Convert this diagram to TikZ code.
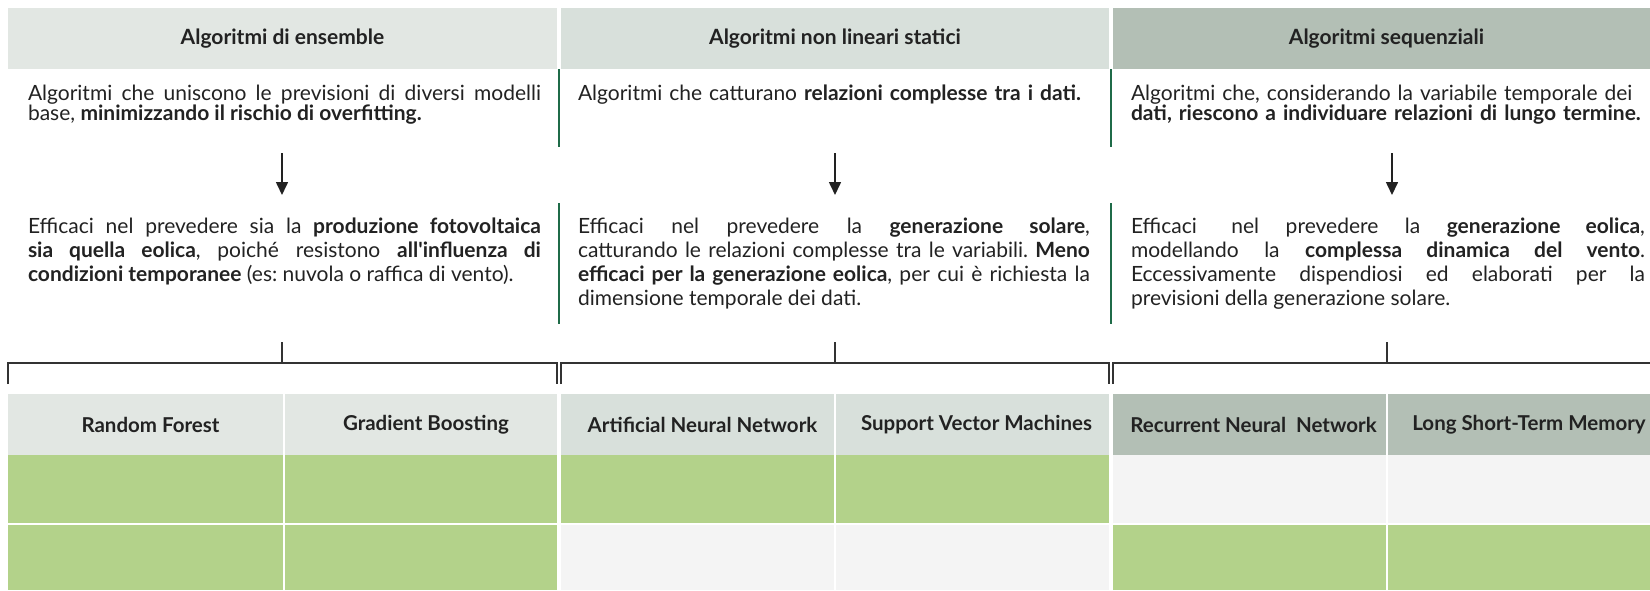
\documentclass[tikz,border=0pt]{standalone}
\usepackage{fontspec}
\setmainfont{Lato}[Ligatures=TeXOff]
\usetikzlibrary{arrows.meta}
\definecolor{headA}{HTML}{E2E7E3}
\definecolor{headB}{HTML}{D8E0DB}
\definecolor{headC}{HTML}{B3BFB5}
\definecolor{okgreen}{HTML}{B3D28A}
\definecolor{nogray}{HTML}{F4F4F4}
\definecolor{bargreen}{HTML}{1F6B48}
\definecolor{mytext}{HTML}{222222}
\hbadness=10000
\frenchspacing

\begin{document}
\begin{tikzpicture}[x=1pt,y=-1pt]

\tikzstyle{title-b} = [inner sep=0, outer sep=0, minimum height=61, text=mytext,
font=\fontsize{21}{24}\selectfont\bfseries]
\tikzstyle{col-b} = [inner sep=0, outer sep=0, minimum height=61, text=mytext,
font=\fontsize{20.5}{24}\selectfont\bfseries]
\tikzstyle{desc-1} = [inner sep=0, outer sep=0, anchor=base west, text=mytext, align=left,
font=\fontsize{21}{20.5}\selectfont]
\tikzstyle{desc-2} = [inner sep=0, outer sep=0, anchor=base west, text=mytext, align=justify,
font=\fontsize{21}{24.3}\selectfont]
\tikzstyle{green-c} = [inner sep=0, outer sep=0, fill=okgreen]
\tikzstyle{gray-c} = [inner sep=0, outer sep=0, fill=nogray]
\tikzstyle{bar} = [bargreen, line width=2.5]
\tikzstyle{down} = [line width=1.6, draw=mytext, -{Triangle[width=12,length=13]}]
\tikzstyle{brace} = [line width=2, draw=black!80]

\clip (0,0) rectangle (1650,590);

% top headers
\node [title-b, fill=headA, minimum width=549] (hA) at (282.5,38.5) {Algoritmi di ensemble};
\node [title-b, fill=headB, minimum width=548] (hB) at (835,38.5) {Algoritmi non lineari statici};
\node [title-b, fill=headC, minimum width=547] (hC) at (1386.5,38.5) {Algoritmi sequenziali};

% first description
\node [desc-1, align=justify, text width=513] (dA) at (28,100) {Algoritmi che uniscono le previsioni di diversi modelli\linebreak
base, \textbf{minimizzando il rischio di overfitting.}};
\node [desc-1, text width=512] (dB) at (578,100) {Algoritmi che catturano \textbf{relazioni complesse tra i dati.}};
\node [desc-1, text width=514] (dC) at (1131,100) {Algoritmi che, considerando la variabile temporale dei\\
\textbf{dati, riescono a individuare relazioni di lungo termine.}};

\draw[bar] (559,69) -- (559,147);
\draw[bar] (1111,69) -- (1111,147);

% arrows
\coordinate (aA) at (282,153);  \coordinate (bA) at (282,195);
\coordinate (aB) at (835,153);  \coordinate (bB) at (835,195);
\coordinate (aC) at (1392,153); \coordinate (bC) at (1392,195);
\draw[down] (aA) -- (bA);
\draw[down] (aB) -- (bB);
\draw[down] (aC) -- (bC);

% second description
\node [desc-2, text width=513] (eA) at (28,233) {Efficaci nel prevedere sia la \textbf{produzione fotovoltaica}\linebreak
\textbf{sia quella eolica}, poiché resistono \textbf{all'influenza di}\linebreak
\textbf{condizioni temporanee} (es: nuvola o raffica di vento).};
\node [desc-2, text width=512] (eB) at (578,233) {Efficaci nel prevedere la \textbf{generazione solare},\linebreak
catturando le relazioni complesse tra le variabili. \textbf{Meno}\linebreak
\textbf{efficaci per la generazione eolica}, per cui è richiesta la\linebreak
dimensione temporale dei dati.};
\node [desc-2, text width=514] (eC) at (1131,233) {Efficaci\hspace{8pt} nel prevedere la \textbf{generazione eolica},\linebreak
modellando la \textbf{complessa dinamica del vento}.\linebreak
Eccessivamente dispendiosi ed elaborati per la\linebreak
previsioni della generazione solare.};

\draw[bar] (559,203) -- (559,324);
\draw[bar] (1111,203) -- (1111,324);

% brackets
\coordinate (tA) at (282,342);  \coordinate (kA) at (282,363);
\coordinate (tB) at (835,342);  \coordinate (kB) at (835,363);
\coordinate (tC) at (1387,342); \coordinate (kC) at (1387,363);
\draw[brace] (tA) -- (kA);
\draw[brace] (tB) -- (kB);
\draw[brace] (tC) -- (kC);
\draw[brace] (8,384) |- (557,363) -- (557,384);
\draw[brace] (561,384) |- (1109,363) -- (1109,384);
\draw[brace] (1113,384) |- (1660,363) -- (1660,384);

% table
\node [col-b, fill=headA, minimum width=275] (rf) at (145.5,424.5) {\hspace*{10pt}Random Forest};
\node [col-b, fill=headA, minimum width=272] (gb) at (421,424.5) {\hspace*{10pt}Gradient Boosting};
\node [col-b, fill=headB, minimum width=273] (ann) at (697.5,424.5) {\hspace*{10pt}Artificial Neural Network};
\node [col-b, fill=headB, minimum width=273] (svm) at (972.5,424.5) {\hspace*{8pt}Support Vector Machines};
\node [col-b, fill=headC, minimum width=273] (rnn) at (1249.5,424.5) {\hspace*{8pt}Recurrent Neural~ Network};
\node [col-b, fill=headC, minimum width=272] (lstm) at (1524,424.5) {\hspace*{10pt}Long Short-Term Memory};

\node [green-c, minimum width=275, minimum height=68] (rf1) at (145.5,489) {};
\node [green-c, minimum width=272, minimum height=68] (gb1) at (421,489) {};
\node [green-c, minimum width=273, minimum height=68] (ann1) at (697.5,489) {};
\node [green-c, minimum width=273, minimum height=68] (svm1) at (972.5,489) {};
\node [gray-c, minimum width=273, minimum height=68] (rnn1) at (1249.5,489) {};
\node [gray-c, minimum width=272, minimum height=68] (lstm1) at (1524,489) {};

\node [green-c, minimum width=275, minimum height=65] (rf2) at (145.5,557.5) {};
\node [green-c, minimum width=272, minimum height=65] (gb2) at (421,557.5) {};
\node [gray-c, minimum width=273, minimum height=65] (ann2) at (697.5,557.5) {};
\node [gray-c, minimum width=273, minimum height=65] (svm2) at (972.5,557.5) {};
\node [green-c, minimum width=273, minimum height=65] (rnn2) at (1249.5,557.5) {};
\node [green-c, minimum width=272, minimum height=65] (lstm2) at (1524,557.5) {};

\end{tikzpicture}
\end{document}
